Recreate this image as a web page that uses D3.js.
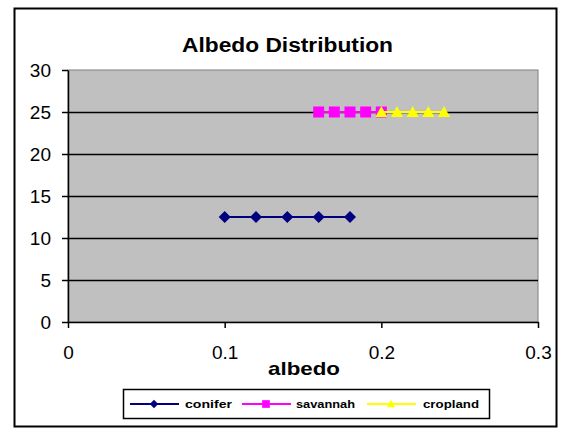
<!DOCTYPE html>
<html>
<head>
<meta charset="utf-8">
<script src="https://cdn.jsdelivr.net/npm/d3@7"></script>
<style>
  body { margin: 0; background: #fff; }
  text { font-family: "Liberation Sans", Arial, sans-serif; }
</style>
</head>
<body>
<div id="chart"></div>
<script>
var width = 571;
var height = 436;

// series values
var coniferX = [0.10, 0.12, 0.14, 0.16, 0.18];
var coniferY = [12.5, 12.5, 12.5, 12.5, 12.5];
var savannahX = [0.16, 0.17, 0.18, 0.19, 0.20];
var savannahY = [25, 25, 25, 25, 25];
var croplandX = [0.20, 0.21, 0.22, 0.23, 0.24];
var croplandY = [25, 25, 25, 25, 25];

var xTicks = [0, 0.1, 0.2, 0.3];
var yTicks = [0, 5, 10, 15, 20, 25, 30];

// excel-like marker shapes
var diamond = r => "M0," + (-r) + "L" + r + ",0L0," + r + "L" + (-r) + ",0Z";
var square = r => "M" + (-r) + "," + (-r) + "H" + r + "V" + r + "H" + (-r) + "Z";
var triangle = r => "M0," + (-r) + "L" + r + "," + (r - 1) + "H" + (-r) + "Z";

var series = [
  { name: "conifer", xs: coniferX, ys: coniferY, color: "#000080", shape: diamond, r: 6, lw: 47 },
  { name: "savannah", xs: savannahX, ys: savannahY, color: "#FF00FF", shape: square, r: 5.5, lw: 59 },
  { name: "cropland", xs: croplandX, ys: croplandY, color: "#FFFF00", shape: triangle, r: 6, lw: 56 }
];

var plot = { left: 68, right: 538, top: 70, bottom: 322 };

var svg = d3.select("#chart").append("svg")
  .attr("width", width)
  .attr("height", height);

// outer chart border
svg.append("rect")
  .attr("x", 14.5).attr("y", 8.5)
  .attr("width", 542).attr("height", 418)
  .attr("fill", "#fff")
  .attr("stroke", "#000")
  .attr("stroke-width", 2);

var x = d3.scaleLinear().domain([0, 0.3]).range([plot.left, plot.right]);
var y = d3.scaleLinear().domain([0, 30]).range([plot.bottom, plot.top]);

// plot area
svg.append("rect")
  .attr("x", plot.left).attr("y", plot.top)
  .attr("width", plot.right - plot.left).attr("height", plot.bottom - plot.top)
  .attr("fill", "#C0C0C0")
  .attr("stroke", "#808080");

// gridlines
svg.selectAll("line.grid")
  .data(yTicks.filter(d => d > 0 && d < 30))
  .enter().append("line")
  .attr("class", "grid")
  .attr("x1", plot.left).attr("x2", plot.right)
  .attr("y1", d => Math.round(y(d)) + 0.5).attr("y2", d => Math.round(y(d)) + 0.5)
  .attr("stroke", "#000")
  .attr("stroke-width", 1.5);

// axes
var xAxis = svg.append("g")
  .attr("transform", "translate(0," + plot.bottom + ")")
  .call(d3.axisBottom(x).tickValues(xTicks).tickFormat(d3.format("")).tickSizeInner(6).tickSizeOuter(0).tickPadding(18));
var yAxis = svg.append("g")
  .attr("transform", "translate(" + plot.left + ",0)")
  .call(d3.axisLeft(y).tickValues(yTicks).tickSizeInner(6).tickSizeOuter(0).tickPadding(11));

[xAxis, yAxis].forEach(g => {
  g.select(".domain").attr("stroke", "#000").attr("stroke-width", 1.5);
  g.selectAll(".tick line").attr("stroke", "#000").attr("stroke-width", 1.5);
  g.selectAll("text").attr("font-size", 19).attr("fill", "#000")
    .attr("font-family", "'Liberation Sans', Arial, sans-serif");
});

// lines and markers
series.forEach(s => {
  var pts = s.xs.map((v, i) => [v, s.ys[i]]);
  svg.append("path")
    .datum(pts)
    .attr("d", d3.line().x(d => x(d[0])).y(d => y(d[1])))
    .attr("fill", "none")
    .attr("stroke", s.color)
    .attr("stroke-width", 2);
  svg.selectAll("path.m-" + s.name)
    .data(pts)
    .enter().append("path")
    .attr("class", "m-" + s.name)
    .attr("transform", d => "translate(" + x(d[0]) + "," + y(d[1]) + ")")
    .attr("d", s.shape(s.r))
    .attr("fill", s.color);
});

// titles
svg.append("text")
  .attr("x", 287.5).attr("y", 52)
  .attr("text-anchor", "middle")
  .attr("font-size", 20).attr("font-weight", "bold")
  .attr("textLength", 211).attr("lengthAdjust", "spacingAndGlyphs")
  .text("Albedo Distribution");

svg.append("text")
  .attr("x", 304).attr("y", 375)
  .attr("text-anchor", "middle")
  .attr("font-size", 19).attr("font-weight", "bold")
  .attr("textLength", 72).attr("lengthAdjust", "spacingAndGlyphs")
  .text("albedo");

// legend
var legend = svg.append("g");
legend.append("rect")
  .attr("x", 123.5).attr("y", 389.5)
  .attr("width", 366).attr("height", 29)
  .attr("fill", "#fff")
  .attr("stroke", "#000")
  .attr("stroke-width", 1.5);

var legX = [130, 242, 367];
var legText = [185, 296, 423];
series.forEach((s, i) => {
  var lx = legX[i];
  legend.append("line")
    .attr("x1", lx).attr("x2", lx + 49)
    .attr("y1", 404).attr("y2", 404)
    .attr("stroke", s.color).attr("stroke-width", 2);
  legend.append("path")
    .attr("transform", "translate(" + (lx + 24) + ",404)")
    .attr("d", s.shape(s.r * 0.7))
    .attr("fill", s.color);
  legend.append("text")
    .attr("x", legText[i]).attr("y", 408)
    .attr("font-size", 11).attr("font-weight", "bold")
    .attr("textLength", s.lw).attr("lengthAdjust", "spacingAndGlyphs")
    .text(s.name);
});
</script>
</body>
</html>
